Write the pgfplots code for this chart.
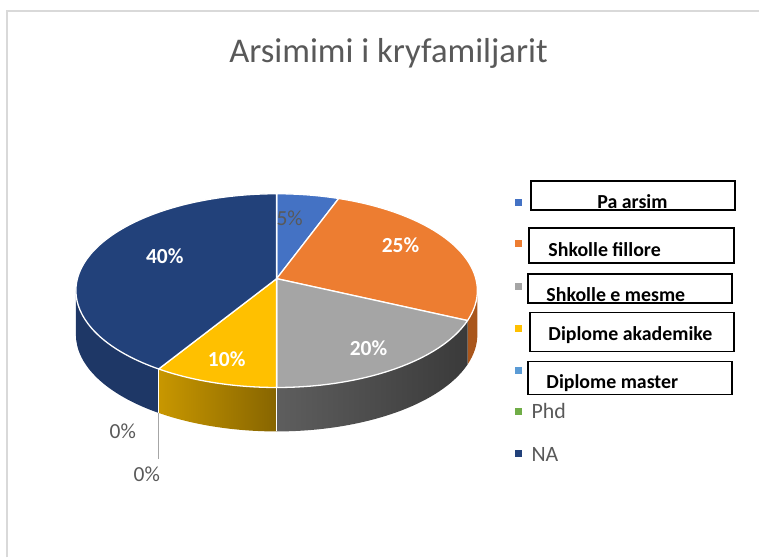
\documentclass[border=0pt]{standalone}
\usepackage{pgfplots}
\pgfplotsset{compat=1.18}
\usepackage{pgfplotstable}
\usepackage{fontspec}
\setmainfont{Carlito}
\definecolor{cPa}{HTML}{4472C4}
\definecolor{cFi}{HTML}{ED7D31}
\definecolor{cMe}{HTML}{A5A5A5}
\definecolor{cAk}{HTML}{FFC000}
\definecolor{cMa}{HTML}{5B9BD5}
\definecolor{cPh}{HTML}{70AD47}
\definecolor{cNA}{HTML}{22417A}
\definecolor{wFi}{HTML}{A9561C}
\definecolor{wMeL}{HTML}{5E5E5E}
\definecolor{wMeR}{HTML}{3A3A3A}
\definecolor{wAkL}{HTML}{C89700}
\definecolor{wAkR}{HTML}{876500}
\definecolor{wNA}{HTML}{1E3766}
\definecolor{txt}{HTML}{595959}
\definecolor{frame}{HTML}{D9D9D9}

\pgfplotstableread{
idx value
0 5
1 25
2 20
3 10
4 0
5 0
6 40
}\piedata

\newcommand{\topwedge}[3]{\fill[#3,draw=white,line width=1.3pt,line join=round] (axis cs:277,291) ++(#1:201pt and 97pt) arc[start angle=#1,end angle=#2,x radius=201pt,y radius=97pt] -- (axis cs:277,279) -- cycle;}
\newcommand{\wallpiece}[3]{\path[#3] (axis cs:277,291) ++(#1:201pt and 97pt) arc[start angle=#1,end angle=#2,x radius=201pt,y radius=97pt] -- ++(0,-44pt) arc[start angle=#2,end angle=#1,x radius=201pt,y radius=97pt] -- cycle;}
\newcommand{\wallsep}[1]{\draw[white,line width=1.3pt] (axis cs:277,291) ++(#1:201pt and 97pt) -- ++(0,-44pt);}

\begin{document}
\begin{tikzpicture}
\pgfplotstablegetelem{0}{value}\of\piedata \pgfmathsetmacro\vA{\pgfplotsretval}
\pgfplotstablegetelem{1}{value}\of\piedata \pgfmathsetmacro\vB{\pgfplotsretval}
\pgfplotstablegetelem{2}{value}\of\piedata \pgfmathsetmacro\vC{\pgfplotsretval}
\pgfplotstablegetelem{3}{value}\of\piedata \pgfmathsetmacro\vD{\pgfplotsretval}
\pgfplotstablegetelem{4}{value}\of\piedata \pgfmathsetmacro\vE{\pgfplotsretval}
\pgfplotstablegetelem{5}{value}\of\piedata \pgfmathsetmacro\vF{\pgfplotsretval}
\pgfplotstablegetelem{6}{value}\of\piedata \pgfmathsetmacro\vG{\pgfplotsretval}
\pgfmathsetmacro\aA{90}
\pgfmathsetmacro\aB{\aA-3.6*\vA}
\pgfmathsetmacro\aC{\aB-3.6*\vB}
\pgfmathsetmacro\aD{\aC-3.6*\vC}
\pgfmathsetmacro\aE{\aD-3.6*\vD}
\pgfmathsetmacro\aF{\aE-3.6*\vE}
\pgfmathsetmacro\aG{\aF-3.6*\vF}
\pgfmathsetmacro\aH{\aG-3.6*\vG}
\begin{axis}[x=1pt,y=1pt,xmin=0,xmax=760,ymin=0,ymax=558,y dir=reverse,
  hide axis,clip=false]
\path (axis cs:0,0) rectangle (axis cs:760,558);
% frame
\draw[frame,line width=2pt] (axis cs:7,558) -- (axis cs:7,11) -- (axis cs:760,11);
% title
\node[anchor=base,text=txt,font=\fontsize{34.7}{40}\selectfont,inner sep=0pt] at (axis cs:389,63) {Arsimimi i kryfamiljarit};
% walls
\wallpiece{0}{\aC}{fill=wFi}
\wallpiece{\aC}{\aD}{left color=wMeL,right color=wMeR}
\wallpiece{\aD}{\aE}{left color=wAkL,right color=wAkR}
\wallpiece{\aE}{-180}{fill=wNA}
\wallsep{\aD}
\wallsep{\aE}
% top faces
\topwedge{\aA}{\aB}{cPa}
\topwedge{\aB}{\aC}{cFi}
\topwedge{\aC}{\aD}{cMe}
\topwedge{\aD}{\aE}{cAk}
\topwedge{\aG}{\aH}{cNA}
% leader line for 0% slices
\draw[gray!70,line width=1.3pt] (axis cs:277,291) ++(\aE:201pt and 97pt) ++(0,-44pt) -- ++(0,-46pt);
% data labels
\node[anchor=base,text=txt,font=\fontsize{21.5}{24}\selectfont] at (axis cs:290,226) {5\%};
\node[anchor=base,text=white,font=\bfseries\fontsize{21.5}{24}\selectfont] at (axis cs:401,253) {25\%};
\node[anchor=base,text=white,font=\bfseries\fontsize{21.5}{24}\selectfont] at (axis cs:369,356) {20\%};
\node[anchor=base,text=white,font=\bfseries\fontsize{21.5}{24}\selectfont] at (axis cs:227,367) {10\%};
\node[anchor=base,text=white,font=\bfseries\fontsize{21.5}{24}\selectfont] at (axis cs:165,264) {40\%};
\node[anchor=base,text=txt,font=\fontsize{21.5}{24}\selectfont] at (axis cs:123,439) {0\%};
\node[anchor=base,text=txt,font=\fontsize{21.5}{24}\selectfont] at (axis cs:147,482) {0\%};
% legend markers
\fill[cPa] (axis cs:516,199) rectangle (axis cs:523,206);
\fill[cFi] (axis cs:516,240) rectangle (axis cs:523,247);
\fill[cMe] (axis cs:516,283) rectangle (axis cs:523,290);
\fill[cAk] (axis cs:516,325) rectangle (axis cs:523,332);
\fill[cMa] (axis cs:516,367) rectangle (axis cs:523,374);
\fill[cPh] (axis cs:516,409) rectangle (axis cs:523,416);
\fill[cNA] (axis cs:516,451) rectangle (axis cs:523,458);
% legend boxes
\draw[black,line width=1.8pt] (axis cs:532,181) rectangle (axis cs:736,210);
\draw[black,line width=1.8pt] (axis cs:530,228) rectangle (axis cs:735,263);
\draw[black,line width=1.8pt] (axis cs:529,274) rectangle (axis cs:733,303);
\draw[black,line width=1.8pt] (axis cs:531,313) rectangle (axis cs:735,352);
\draw[black,line width=1.8pt] (axis cs:529,362) rectangle (axis cs:733,395);
% legend texts
\node[anchor=base west,inner sep=0pt,font=\bfseries\fontsize{19.9}{22}\selectfont] at (axis cs:598,209) {Pa arsim};
\node[anchor=base west,inner sep=0pt,font=\bfseries\fontsize{19.9}{22}\selectfont] at (axis cs:549,257) {Shkolle fillore};
\node[anchor=base west,inner sep=0pt,font=\bfseries\fontsize{19.9}{22}\selectfont] at (axis cs:547,302) {Shkolle e mesme};
\node[anchor=base west,inner sep=0pt,font=\bfseries\fontsize{19.9}{22}\selectfont] at (axis cs:549,341) {Diplome akademike};
\node[anchor=base west,inner sep=0pt,font=\bfseries\fontsize{19.9}{22}\selectfont] at (axis cs:547,389) {Diplome master};
\node[anchor=base west,inner sep=0pt,text=txt,font=\fontsize{21.9}{24}\selectfont] at (axis cs:532,419) {Phd};
\node[anchor=base west,inner sep=0pt,text=txt,font=\fontsize{21.9}{24}\selectfont] at (axis cs:532,462) {NA};
\end{axis}
\end{tikzpicture}
\end{document}
